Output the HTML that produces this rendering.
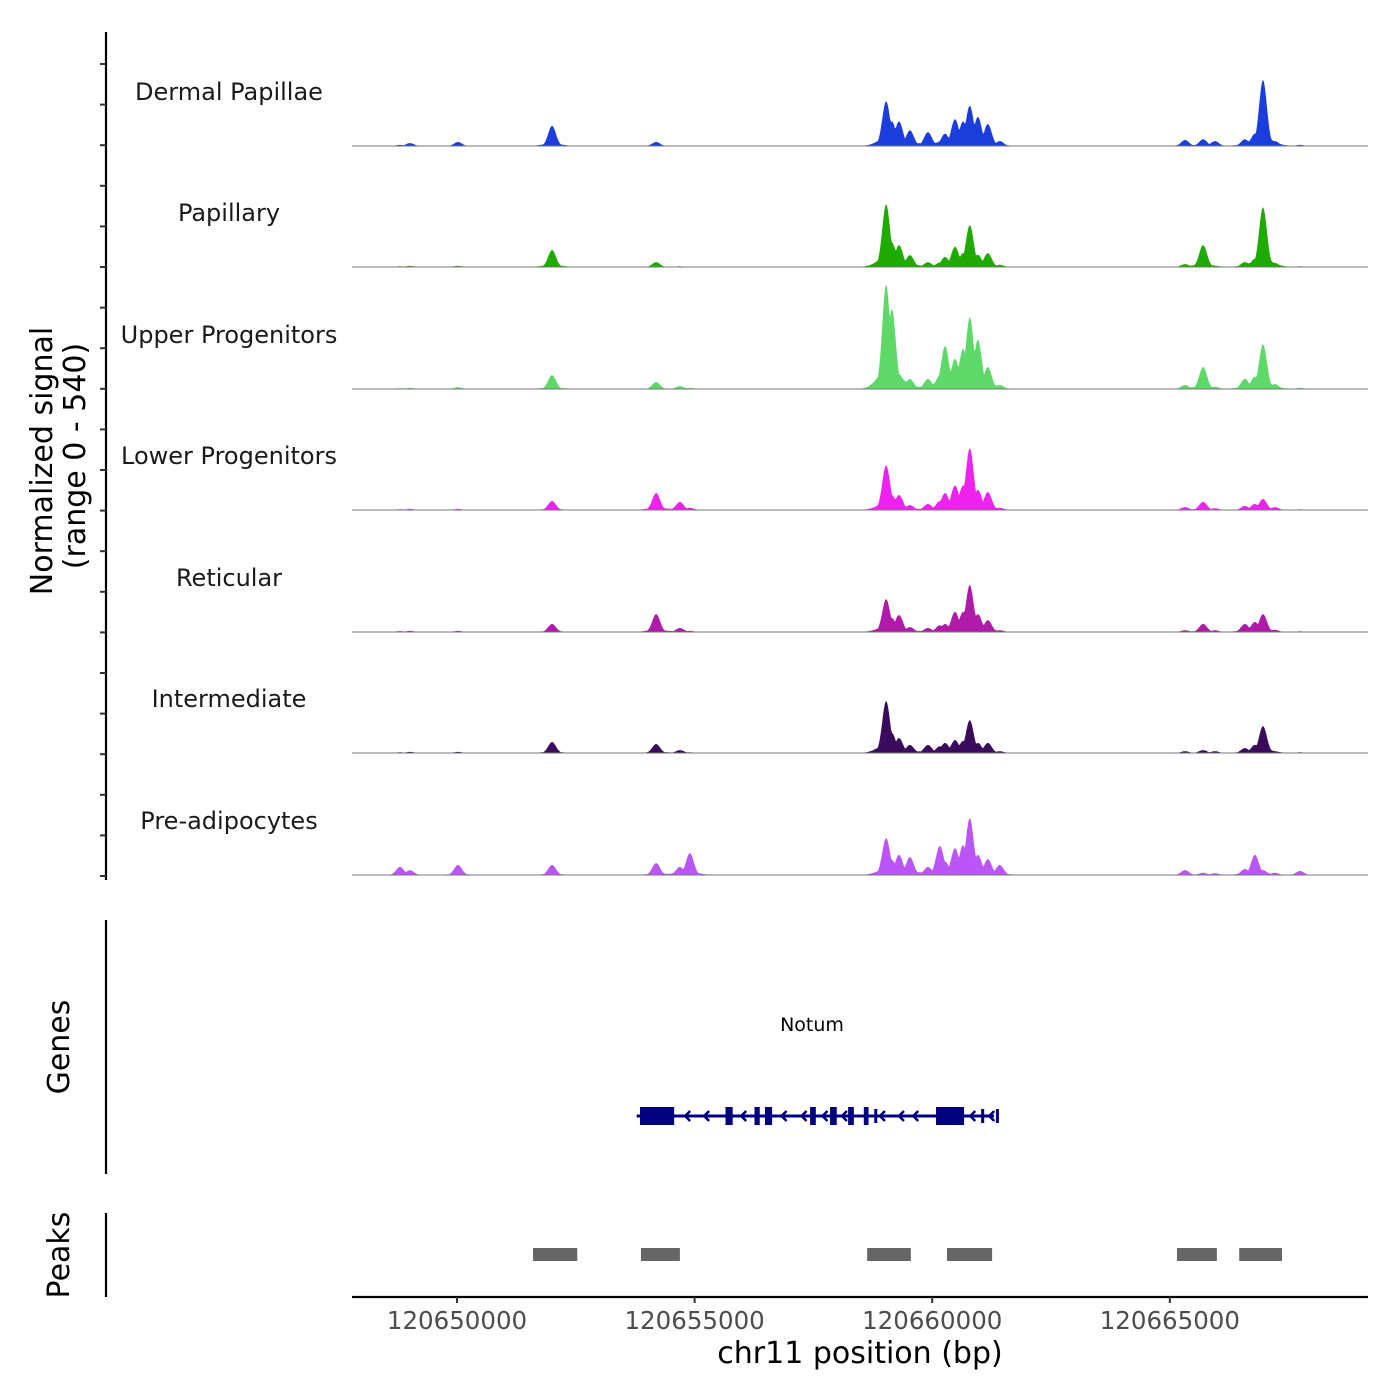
<!DOCTYPE html>
<html><head><meta charset="utf-8"><style>
body{margin:0;background:#fff}
svg{display:block;font-family:"DejaVu Sans","Liberation Sans",sans-serif}
</style></head><body>
<svg id="chart" width="1400" height="1400" viewBox="0 0 1400 1400">
<rect width="1400" height="1400" fill="#fff"/>
<g id="tracks"></g>
<line x1="106" y1="32" x2="106" y2="880" stroke="#000" stroke-width="2.2"/>
<g id="yticks"></g>
<text transform="translate(52,461) rotate(-90)" text-anchor="middle" font-size="30">Normalized signal</text>
<text transform="translate(85,456) rotate(-90)" text-anchor="middle" font-size="30">(range 0 - 540)</text>
<line x1="106" y1="920" x2="106" y2="1174" stroke="#000" stroke-width="2.2"/>
<text transform="translate(69,1047) rotate(-90)" text-anchor="middle" font-size="30">Genes</text>
<g id="genes"></g>
<line x1="106" y1="1213" x2="106" y2="1297" stroke="#000" stroke-width="2.2"/>
<text transform="translate(69,1255) rotate(-90)" text-anchor="middle" font-size="30">Peaks</text>
<g id="peaks"></g>
<line x1="352" y1="1297" x2="1368" y2="1297" stroke="#000" stroke-width="2.2"/>
<g id="xticks"></g>
<text x="860" y="1363" text-anchor="middle" font-size="30">chr11 position (bp)</text>
</svg>
<script>
const NS="http://www.w3.org/2000/svg";
const trackNames=["Dermal Papillae","Papillary","Upper Progenitors","Lower Progenitors","Reticular","Intermediate","Pre-adipocytes"];
const trackColors=["#1a3ddb","#1faa00","#5cd966","#ee22ee","#b01aa8","#3a0a5c","#bb55f5"];
// peak centers in kb (chr11 position / 1000)
const peakCenters=[120648.80,120649.01,120650.02,120652.00,120654.19,120654.69,120654.90,120659.03,120659.15,120659.30,120659.53,120659.91,120660.16,120660.27,120660.48,120660.65,120660.79,120660.96,120661.17,120661.42,120665.32,120665.70,120665.95,120666.58,120666.79,120666.96,120667.21,120667.74];
const dermalPapillae=[5,13,18,90,18,0,0,200,110,110,70,62,20,55,120,110,180,130,98,22,27,30,22,30,55,295,22,5];
const papillary=[3,5,5,76,22,3,0,280,110,98,53,22,20,45,90,62,187,55,62,10,13,98,5,22,36,267,18,3];
const upperProgenitors=[3,5,8,62,31,13,5,465,357,67,45,45,60,192,135,180,320,220,98,18,18,98,10,45,55,200,22,5];
const lowerProgenitors=[3,5,5,40,76,36,10,200,67,67,22,27,40,76,110,110,276,90,80,10,13,36,8,18,27,49,13,3];
const reticular=[4,5,5,36,80,18,5,147,62,76,22,18,30,36,90,90,210,80,53,8,8,36,8,36,45,80,10,3];
const intermediate=[3,5,5,49,40,13,3,232,90,67,36,36,30,45,58,54,147,45,45,8,8,13,8,22,36,120,8,3];
const preAdipocytes=[36,22,45,45,53,36,98,165,67,90,80,36,130,60,120,134,254,90,71,45,22,10,8,27,90,22,10,18];
const trackValues=[dermalPapillae,papillary,upperProgenitors,lowerProgenitors,reticular,intermediate,preAdipocytes];
const peakStarts=[120651.60,120653.87,120658.63,120660.31,120665.15,120666.46];
const peakEnds=[120652.53,120654.69,120659.55,120661.26,120665.99,120667.36];
const exonStarts=[120653.85,120654.48,120655.65,120656.26,120656.48,120657.43,120657.85,120658.23,120658.56,120658.78,120660.08,120661.03,120661.34];
const exonEnds=[120654.57,120654.52,120655.80,120656.37,120656.63,120657.55,120657.99,120658.35,120658.66,120658.83,120660.67,120661.07,120661.39];
const exonTall=[1,0,1,1,1,1,1,1,1,0,1,0,0];
const arrowPos=[120654.38,120654.80,120655.20,120655.98,120656.83,120657.25,120657.69,120658.10,120658.90,120659.30,120659.60,120660.80,120661.20];
const geneStart=120653.78, geneEnd=120661.30;
const xTicks=[120650000,120655000,120660000,120665000];
const X0=120647.79, X1=120669.17, PX0=352, PX1=1368;
const YMAX=540, TRACK_H=121;
const baselines=[146,267,389,510,632,753,875];
function xs(kb){return PX0+(kb-X0)/(X1-X0)*(PX1-PX0);}
function ys(v,b){return b-v/YMAX*TRACK_H;}
const tg=document.getElementById('tracks');
trackValues.forEach((vals,t)=>{
  const b=baselines[t];
  let pts=[];
  const startKb=120648.6, endKb=120667.9;
  for(let px=Math.ceil(xs(startKb));px<=xs(endKb);px+=1){
    const kb=X0+(px-PX0)/(PX1-PX0)*(X1-X0);
    let v=0, s2=0;
    peakCenters.forEach((c,i)=>{const d=Math.abs(kb-c)/0.11;const s=vals[i]*Math.exp(-d*d*0.9);if(s>v)v=s;s2+=vals[i]*0.12*Math.exp(-d*d*0.15);});
    v=Math.max(v,s2);
    pts.push(px.toFixed(1)+","+ys(v,b).toFixed(1));
  }
  const poly=document.createElementNS(NS,'polygon');
  poly.setAttribute('points',xs(startKb).toFixed(1)+","+b+" "+pts.join(" ")+" "+xs(endKb).toFixed(1)+","+b);
  poly.setAttribute('fill',trackColors[t]);
  
  
  tg.appendChild(poly);
  const ln=document.createElementNS(NS,'line');
  ln.setAttribute('x1',PX0);ln.setAttribute('x2',PX1);ln.setAttribute('y1',b);ln.setAttribute('y2',b);
  ln.setAttribute('stroke','#777');ln.setAttribute('stroke-width','1');
  
  
  tg.appendChild(ln);
  const tx=document.createElementNS(NS,'text');
  tx.setAttribute('x',229);tx.setAttribute('y',b-46);tx.setAttribute('text-anchor','middle');tx.setAttribute('font-size','24');tx.setAttribute('fill','#1a1a1a');
  tx.textContent=trackNames[t];
  
  
  tg.appendChild(tx);
});
const yt=document.getElementById('yticks');
for(let i=0;i<=20;i++){
  const y=64+i*40.6;
  const l=document.createElementNS(NS,'line');
  l.setAttribute('x1',100);l.setAttribute('x2',106);l.setAttribute('y1',y);l.setAttribute('y2',y);l.setAttribute('stroke','#333');l.setAttribute('stroke-width','2');
  
  
  yt.appendChild(l);
}
const gg=document.getElementById('genes');
const gy=1116;
const gl=document.createElementNS(NS,'line');
gl.setAttribute('x1',xs(geneStart));gl.setAttribute('x2',xs(geneEnd));gl.setAttribute('y1',gy);gl.setAttribute('y2',gy);gl.setAttribute('stroke','#000080');gl.setAttribute('stroke-width','3');


gg.appendChild(gl);
exonStarts.forEach((s,i)=>{
  const r=document.createElementNS(NS,'rect');
  const h=exonTall[i]?18:14;
  r.setAttribute('x',xs(s));r.setAttribute('width',Math.max(3,xs(exonEnds[i])-xs(s)));
  r.setAttribute('y',gy-h/2);r.setAttribute('height',h);r.setAttribute('fill','#000080');
  
  
  gg.appendChild(r);
});
arrowPos.forEach(a=>{
  const p=document.createElementNS(NS,'polyline');
  const x=xs(a);
  p.setAttribute('points',(x+5)+","+(gy-5)+" "+x+","+gy+" "+(x+5)+","+(gy+5));
  p.setAttribute('fill','none');p.setAttribute('stroke','#000080');p.setAttribute('stroke-width','2.5');
  
  
  gg.appendChild(p);
});
const gt=document.createElementNS(NS,'text');
gt.setAttribute('x',812);gt.setAttribute('y',1031);gt.setAttribute('text-anchor','middle');gt.setAttribute('font-size','19');
gt.textContent='Notum';


gg.appendChild(gt);
const pg=document.getElementById('peaks');
peakStarts.forEach((s,i)=>{
  const r=document.createElementNS(NS,'rect');
  r.setAttribute('x',xs(s));r.setAttribute('width',xs(peakEnds[i])-xs(s));
  r.setAttribute('y',1248);r.setAttribute('height',13);r.setAttribute('fill','#666');
  
  
  pg.appendChild(r);
});
const xt=document.getElementById('xticks');
xTicks.forEach(v=>{
  const x=xs(v/1000);
  const l=document.createElementNS(NS,'line');
  l.setAttribute('x1',x);l.setAttribute('x2',x);l.setAttribute('y1',1297);l.setAttribute('y2',1303);l.setAttribute('stroke','#333');l.setAttribute('stroke-width','2');
  
  
  xt.appendChild(l);
  const t=document.createElementNS(NS,'text');
  t.setAttribute('x',x);t.setAttribute('y',1329);t.setAttribute('text-anchor','middle');t.setAttribute('font-size','24.5');t.setAttribute('fill','#4d4d4d');
  t.textContent=String(v);
  
  
  xt.appendChild(t);
});
</script>
</body></html>
